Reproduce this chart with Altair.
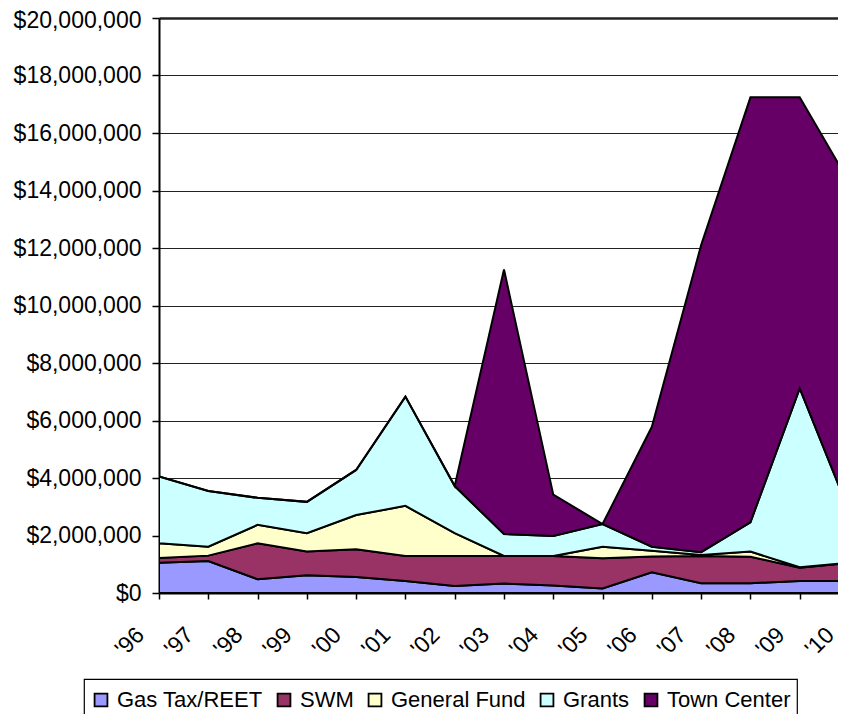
import altair as alt
import pandas as pd

years = ["'96", "'97", "'98", "'99", "'00", "'01", "'02", "'03", "'04", "'05",
         "'06", "'07", "'08", "'09", "'10"]
series = ["Gas Tax/REET", "SWM", "General Fund", "Grants", "Town Center"]
colors = ["#9999FF", "#993366", "#FFFFCC", "#CCFFFF", "#660066"]

# values in dollars
gas_tax = [1050000, 1110000, 480000, 620000, 560000, 420000, 240000, 330000,
           260000, 160000, 720000, 340000, 340000, 420000, 420000]
swm = [170000, 190000, 1250000, 820000, 960000, 870000, 1050000, 960000,
       1030000, 1050000, 550000, 950000, 920000, 460000, 630000]
general_fund = [510000, 310000, 640000, 640000, 1190000, 1740000, 790000, 0,
                0, 400000, 200000, 30000, 180000, 20000, 0]
grants = [2320000, 1940000, 940000, 1090000, 1570000, 3800000, 1640000, 760000,
          690000, 790000, 140000, 100000, 1020000, 6220000, 1800000]
town_center = [0, 0, 0, 0, 0, 0, 0, 9200000, 1440000, 0, 4170000, 10680000,
               14780000, 10120000, 11450000]

y_ticks = [0, 2000000, 4000000, 6000000, 8000000, 10000000, 12000000,
           14000000, 16000000, 18000000, 20000000]

rows = []
for k, (name, vals) in enumerate(zip(series, [gas_tax, swm, general_fund, grants, town_center])):
    for yr, v in zip(years, vals):
        rows.append({"year": yr, "series": name, "value": v, "order": k})
df = pd.DataFrame(rows)

FONT = "Liberation Sans"

chart = alt.Chart(df).mark_area(
    clip=True, stroke="black", strokeWidth=2, opacity=1, interpolate="linear"
).encode(
    x=alt.X("year:O", sort=years,
            scale=alt.Scale(type="point", padding=0, range=[0, 690]),
            axis=alt.Axis(title=None, labelAngle=315, labelAlign="right",
                          labelBaseline="middle", labelOffset=-19,
                          labelPadding=32, tickSize=6, tickColor="black",
                          tickWidth=1.5, domainColor="black", domainWidth=2,
                          labelFontSize=23, labelFont=FONT, labelColor="black",
                          grid=False)),
    y=alt.Y("value:Q", stack="zero",
            scale=alt.Scale(domain=[0, 20000000], nice=False),
            axis=alt.Axis(title=None, values=y_ticks, format="$,.0f",
                          tickSize=7, tickColor="black", tickWidth=1.5,
                          domainColor="black", domainWidth=2,
                          labelFontSize=23, labelFont=FONT, labelColor="black",
                          labelPadding=11, grid=True, gridColor="#222222",
                          labelOffset={"condition": {"test": "datum.value == 20000000", "value": 2}, "value": 0},
                          gridWidth={"condition": {"test": "datum.value == 20000000", "value": 2.5}, "value": 1})),
    color=alt.Color("series:N",
                    scale=alt.Scale(domain=series, range=colors),
                    legend=alt.Legend(title=" ", titleFontSize=4, titlePadding=0,
                                      orient="none", direction="horizontal",
                                      legendX=-75, legendY=661,
                                      symbolType="square", symbolSize=165,
                                      labelFontSize=22, labelFont=FONT,
                                      labelColor="black", labelOffset=5,
                                      columnPadding=10, padding=6)),
    order=alt.Order("order:Q"),
).properties(
    width=679, height=575,
    padding={"left": 151, "top": 10, "right": 0, "bottom": 121},
    autosize=alt.AutoSizeParams(type="none"),
    background="white",
).configure_view(stroke=None).configure_legend(
    strokeColor="black", strokeWidth=1.2,
    symbolStrokeColor="black", symbolStrokeWidth=1.8, symbolOpacity=1,
)

chart.save("out.html", embed_options={"renderer": "svg", "actions": False})
